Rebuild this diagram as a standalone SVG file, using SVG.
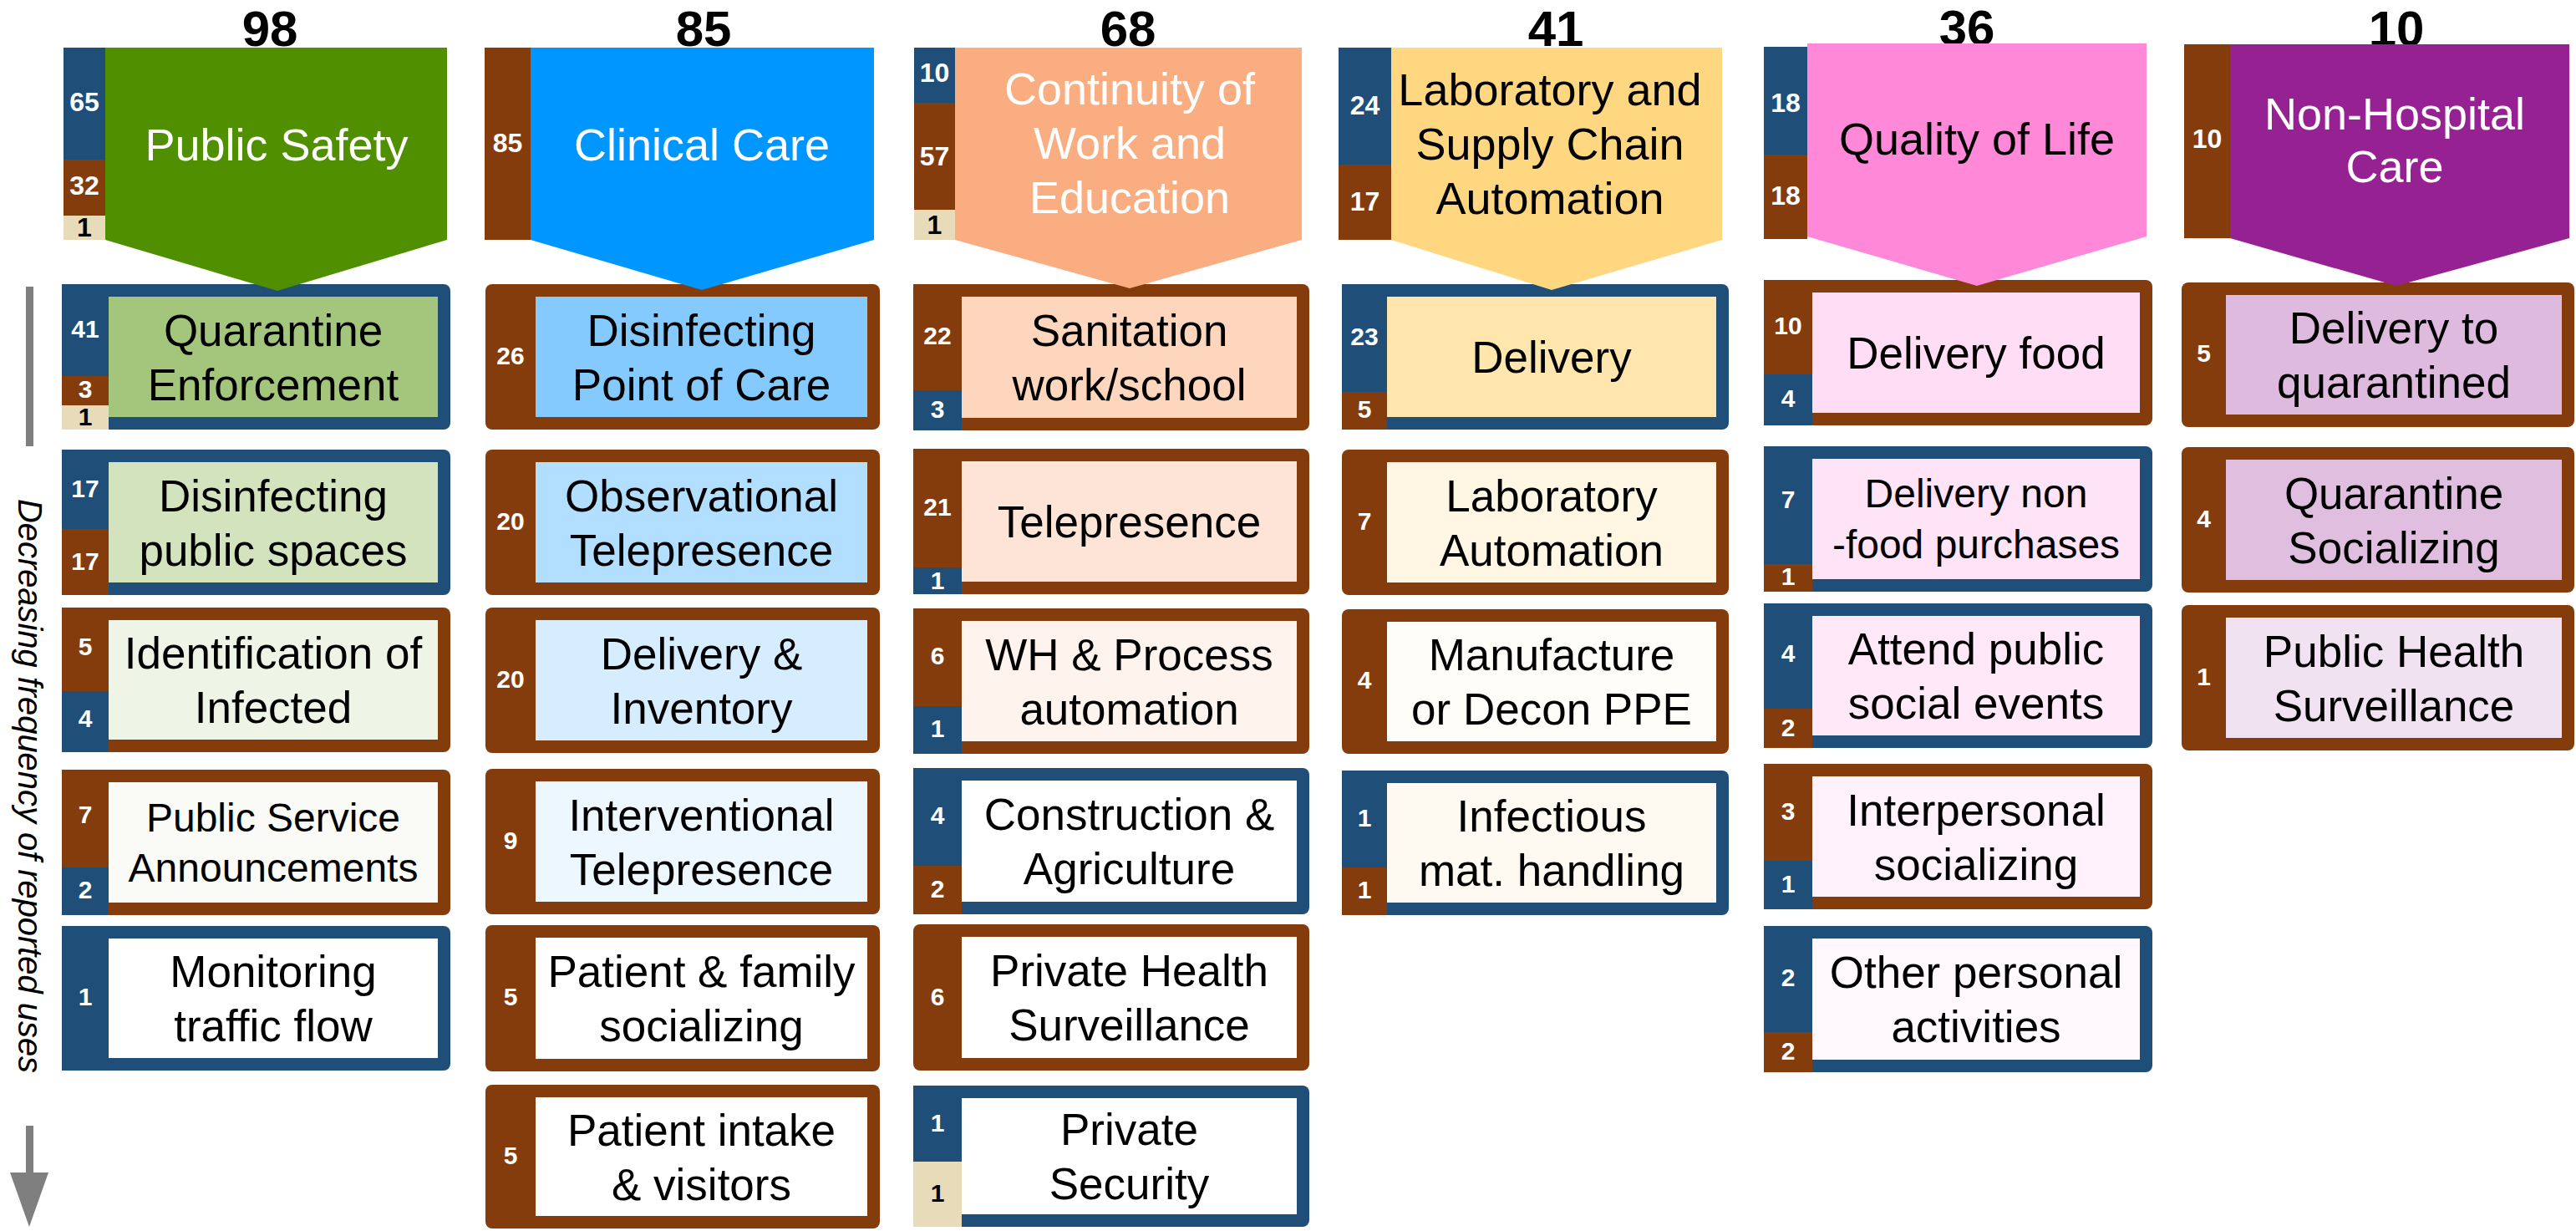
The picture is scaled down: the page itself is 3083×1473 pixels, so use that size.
<svg xmlns="http://www.w3.org/2000/svg" width="3083" height="1473" viewBox="0 0 3083 1473">
<style>
.bgB{fill:#1F4E79}.bgR{fill:#843C0C}.bgY{fill:#E7DBBA}
text{font-family:"Liberation Sans",Arial,sans-serif}
.t{font-size:53px;text-anchor:middle;fill:#000}
.ts{font-size:48px;text-anchor:middle;fill:#000}
.ht{font-size:54px;text-anchor:middle;fill:#fff}
.hk{fill:#000}
.l{font-size:30px;font-weight:bold;text-anchor:middle;fill:#fff}
.hl{font-size:32px;font-weight:bold;text-anchor:middle;fill:#fff}
.lk{fill:#000}
.num{font-size:60px;font-weight:bold;text-anchor:middle;fill:#000}
.ax{fill:#7F7F7F}
</style>
<rect width="3083" height="1473" fill="#fff"/>

<g id="axis">
<rect class="ax" x="31" y="343" width="9" height="191"/>
<text transform="translate(22,597) rotate(90)" font-size="40" font-style="italic" textLength="687" lengthAdjust="spacingAndGlyphs">Decreasing frequency of reported uses</text>
<rect class="ax" x="31" y="1347" width="9" height="57"/>
<polygon class="ax" points="12,1403 58,1403 35,1468"/>
</g>

<!-- Column 1: Public Safety -->
<g id="c1-n1">
<rect class="bgB" x="74" y="340" width="465" height="174" rx="8"/>
<rect class="bgB" x="74" y="340" width="56" height="110"/><rect class="bgR" x="74" y="450" width="56" height="35"/><rect class="bgY" x="74" y="485" width="56" height="29"/>
<rect x="130" y="355" width="394" height="144" fill="#A4C67C"/>
<text class="l" x="102" y="404">41</text><text class="l" x="102" y="476">3</text><text class="l lk" x="102" y="509">1</text>
<text class="t" x="327" y="413.5">Quarantine</text><text class="t" x="327" y="478.5">Enforcement</text>
</g>
<g id="c1-n2">
<rect class="bgB" x="74" y="538" width="465" height="174" rx="8"/>
<rect class="bgB" x="74" y="538" width="56" height="95"/><rect class="bgR" x="74" y="633" width="56" height="79"/>
<rect x="130" y="553" width="394" height="144" fill="#D2E3BD"/>
<text class="l" x="102" y="595">17</text><text class="l" x="102" y="682">17</text>
<text class="t" x="327" y="611.5">Disinfecting</text><text class="t" x="327" y="676.5">public spaces</text>
</g>
<g id="c1-n3">
<rect class="bgR" x="74" y="727" width="465" height="173" rx="8"/>
<rect class="bgR" x="74" y="727" width="56" height="100"/><rect class="bgB" x="74" y="827" width="56" height="73"/>
<rect x="130" y="742" width="394" height="143" fill="#EEF5E7"/>
<text class="l" x="102" y="784">5</text><text class="l" x="102" y="870">4</text>
<text class="t" x="327" y="800">Identification of</text><text class="t" x="327" y="865">Infected</text>
</g>
<g id="c1-n4">
<rect class="bgR" x="74" y="921" width="465" height="174" rx="8"/>
<rect class="bgR" x="74" y="921" width="56" height="117"/><rect class="bgB" x="74" y="1038" width="56" height="57"/>
<rect x="130" y="936" width="394" height="144" fill="#FAFBF7"/>
<text class="l" x="102" y="985">7</text><text class="l" x="102" y="1075">2</text>
<text class="ts" x="327" y="995">Public Service</text><text class="ts" x="327" y="1055">Announcements</text>
</g>
<g id="c1-n5">
<rect class="bgB" x="74" y="1108" width="465" height="173" rx="8"/>
<rect class="bgB" x="74" y="1108" width="56" height="173"/>
<rect x="130" y="1123" width="394" height="143" fill="#FFFFFF"/>
<text class="l" x="102" y="1203">1</text>
<text class="t" x="327" y="1181">Monitoring</text><text class="t" x="327" y="1246">traffic flow</text>
</g>
<g id="c1-head">
<text class="num" x="323" y="55">98</text>
<rect class="bgB" x="76" y="57" width="50" height="134"/><rect class="bgR" x="76" y="191" width="50" height="67"/><rect class="bgY" x="76" y="258" width="50" height="29"/>
<polygon points="126,57 535,57 535,287 332,348 126,287" fill="#4F8F00"/>
<text class="hl" x="101" y="133">65</text><text class="hl" x="101" y="233">32</text><text class="hl lk" x="101" y="283">1</text>
<text class="ht" x="331" y="192">Public Safety</text>
</g>

<!-- Column 2: Clinical Care -->
<g id="c2-n1">
<rect class="bgR" x="581" y="340" width="472" height="174" rx="8"/>
<rect x="641" y="355" width="397" height="144" fill="#85CAFF"/>
<text class="l" x="611" y="436">26</text>
<text class="t" x="839.5" y="413.5">Disinfecting</text><text class="t" x="839.5" y="478.5">Point of Care</text>
</g>
<g id="c2-n2">
<rect class="bgR" x="581" y="538" width="472" height="174" rx="8"/>
<rect x="641" y="553" width="397" height="144" fill="#B2DEFF"/>
<text class="l" x="611" y="634">20</text>
<text class="t" x="839.5" y="611.5">Observational</text><text class="t" x="839.5" y="676.5">Telepresence</text>
</g>
<g id="c2-n3">
<rect class="bgR" x="581" y="727" width="472" height="174" rx="8"/>
<rect x="641" y="742" width="397" height="144" fill="#D6EDFF"/>
<text class="l" x="611" y="823">20</text>
<text class="t" x="839.5" y="800.5">Delivery &amp;</text><text class="t" x="839.5" y="865.5">Inventory</text>
</g>
<g id="c2-n4">
<rect class="bgR" x="581" y="920" width="472" height="174" rx="8"/>
<rect x="641" y="935" width="397" height="144" fill="#EDF7FF"/>
<text class="l" x="611" y="1016">9</text>
<text class="t" x="839.5" y="993.5">Interventional</text><text class="t" x="839.5" y="1058.5">Telepresence</text>
</g>
<g id="c2-n5">
<rect class="bgR" x="581" y="1107" width="472" height="175" rx="8"/>
<rect x="641" y="1122" width="397" height="145" fill="#FFFFFF"/>
<text class="l" x="611" y="1203">5</text>
<text class="t" x="839.5" y="1181">Patient &amp; family</text><text class="t" x="839.5" y="1246">socializing</text>
</g>
<g id="c2-n6">
<rect class="bgR" x="581" y="1298" width="472" height="172" rx="8"/>
<rect x="641" y="1313" width="397" height="142" fill="#FFFFFF"/>
<text class="l" x="611" y="1393">5</text>
<text class="t" x="839.5" y="1370.5">Patient intake</text><text class="t" x="839.5" y="1435.5">&amp; visitors</text>
</g>
<g id="c2-head">
<text class="num" x="842" y="55">85</text>
<rect class="bgR" x="580" y="57" width="55" height="230"/>
<polygon points="635,57 1046,57 1046,287 840,347 635,287" fill="#0096FF"/>
<text class="hl" x="607.5" y="182">85</text>
<text class="ht" x="840" y="192">Clinical Care</text>
</g>

<!-- Column 3: Continuity of Work and Education -->
<g id="c3-n1">
<rect class="bgR" x="1093" y="340" width="474" height="175" rx="8"/>
<rect class="bgR" x="1093" y="340" width="58" height="127"/><rect class="bgB" x="1093" y="467" width="58" height="48"/>
<rect x="1151" y="355" width="401" height="145" fill="#FDD6BD"/>
<text class="l" x="1122" y="412">22</text><text class="l" x="1122" y="500">3</text>
<text class="t" x="1351.5" y="414">Sanitation</text><text class="t" x="1351.5" y="479">work/school</text>
</g>
<g id="c3-n2">
<rect class="bgR" x="1093" y="537" width="474" height="174" rx="8"/>
<rect class="bgR" x="1093" y="537" width="58" height="142"/><rect class="bgB" x="1093" y="679" width="58" height="32"/>
<rect x="1151" y="552" width="401" height="144" fill="#FEE4D6"/>
<text class="l" x="1122" y="617">21</text><text class="l" x="1122" y="705">1</text>
<text class="t" x="1351.5" y="643">Telepresence</text>
</g>
<g id="c3-n3">
<rect class="bgR" x="1093" y="728" width="474" height="174" rx="8"/>
<rect class="bgR" x="1093" y="728" width="58" height="117"/><rect class="bgB" x="1093" y="845" width="58" height="57"/>
<rect x="1151" y="743" width="401" height="144" fill="#FEF3ED"/>
<text class="l" x="1122" y="795">6</text><text class="l" x="1122" y="882">1</text>
<text class="t" x="1351.5" y="801.5">WH &amp; Process</text><text class="t" x="1351.5" y="866.5">automation</text>
</g>
<g id="c3-n4">
<rect class="bgB" x="1093" y="919" width="474" height="175" rx="8"/>
<rect class="bgB" x="1093" y="919" width="58" height="117"/><rect class="bgR" x="1093" y="1036" width="58" height="58"/>
<rect x="1151" y="934" width="401" height="145" fill="#FFFFFF"/>
<text class="l" x="1122" y="986">4</text><text class="l" x="1122" y="1074">2</text>
<text class="t" x="1351.5" y="993">Construction &amp;</text><text class="t" x="1351.5" y="1058">Agriculture</text>
</g>
<g id="c3-n5">
<rect class="bgR" x="1093" y="1106" width="474" height="175" rx="8"/>
<rect x="1151" y="1121" width="401" height="145" fill="#FFFFFF"/>
<text class="l" x="1122" y="1203">6</text>
<text class="t" x="1351.5" y="1180">Private Health</text><text class="t" x="1351.5" y="1245">Surveillance</text>
</g>
<g id="c3-n6">
<rect class="bgB" x="1093" y="1299" width="474" height="169" rx="8"/>
<rect class="bgB" x="1093" y="1299" width="58" height="91"/><rect class="bgY" x="1093" y="1390" width="58" height="78"/>
<rect x="1151" y="1314" width="401" height="139" fill="#FFFFFF"/>
<text class="l" x="1122" y="1354">1</text><text class="l lk" x="1122" y="1438">1</text>
<text class="t" x="1351.5" y="1370">Private</text><text class="t" x="1351.5" y="1435">Security</text>
</g>
<g id="c3-head">
<text class="num" x="1350" y="55">68</text>
<rect class="bgB" x="1094" y="57" width="49" height="66"/><rect class="bgR" x="1094" y="123" width="49" height="128"/><rect class="bgY" x="1094" y="251" width="49" height="36"/>
<polygon points="1143,57 1558,57 1558,287 1352,345 1143,287" fill="#F9AD81"/>
<text class="hl" x="1118.5" y="98">10</text><text class="hl" x="1118.5" y="198">57</text><text class="hl lk" x="1118.5" y="280">1</text>
<text class="ht" x="1352" y="125" font-size="53">Continuity of</text><text class="ht" x="1352" y="190" font-size="53">Work and</text><text class="ht" x="1352" y="255" font-size="53">Education</text>
</g>

<!-- Column 4: Laboratory and Supply Chain Automation -->
<g id="c4-n1">
<rect class="bgB" x="1606" y="340" width="463" height="174" rx="8"/>
<rect class="bgB" x="1606" y="340" width="54" height="129"/><rect class="bgR" x="1606" y="469" width="54" height="45"/>
<rect x="1660" y="355" width="394" height="144" fill="#FFE6AD"/>
<text class="l" x="1633" y="413">23</text><text class="l" x="1633" y="500">5</text>
<text class="t" x="1857" y="446">Delivery</text>
</g>
<g id="c4-n2">
<rect class="bgR" x="1606" y="538" width="463" height="174" rx="8"/>
<rect x="1660" y="553" width="394" height="144" fill="#FFF6E4"/>
<text class="l" x="1633" y="634">7</text>
<text class="t" x="1857" y="611.5">Laboratory</text><text class="t" x="1857" y="676.5">Automation</text>
</g>
<g id="c4-n3">
<rect class="bgR" x="1606" y="729" width="463" height="173" rx="8"/>
<rect x="1660" y="744" width="394" height="143" fill="#FFFDF8"/>
<text class="l" x="1633" y="824">4</text>
<text class="t" x="1857" y="802">Manufacture</text><text class="t" x="1857" y="867">or Decon PPE</text>
</g>
<g id="c4-n4">
<rect class="bgB" x="1606" y="922" width="463" height="173" rx="8"/>
<rect class="bgB" x="1606" y="922" width="54" height="116"/><rect class="bgR" x="1606" y="1038" width="54" height="57"/>
<rect x="1660" y="937" width="394" height="143" fill="#FFFAF1"/>
<text class="l" x="1633" y="989">1</text><text class="l" x="1633" y="1075">1</text>
<text class="t" x="1857" y="995">Infectious</text><text class="t" x="1857" y="1060">mat. handling</text>
</g>
<g id="c4-head">
<text class="num" x="1862" y="55">41</text>
<rect class="bgB" x="1602" y="57" width="63" height="140"/><rect class="bgR" x="1602" y="197" width="63" height="90"/>
<polygon points="1665,57 2061,57 2061,287 1857,347 1665,287" fill="#FFD780"/>
<text class="hl" x="1633.5" y="137">24</text><text class="hl" x="1633.5" y="252">17</text>
<text class="ht hk" x="1855" y="126" font-size="53">Laboratory and</text><text class="ht hk" x="1855" y="191" font-size="53">Supply Chain</text><text class="ht hk" x="1855" y="256" font-size="53">Automation</text>
</g>

<!-- Column 5: Quality of Life -->
<g id="c5-n1">
<rect class="bgR" x="2111" y="335" width="465" height="174" rx="8"/>
<rect class="bgR" x="2111" y="335" width="58" height="113"/><rect class="bgB" x="2111" y="448" width="58" height="61"/>
<rect x="2169" y="350" width="392" height="144" fill="#FFDDF4"/>
<text class="l" x="2140" y="400">10</text><text class="l" x="2140" y="487">4</text>
<text class="t" x="2365" y="441">Delivery food</text>
</g>
<g id="c5-n2">
<rect class="bgB" x="2111" y="534" width="465" height="174" rx="8"/>
<rect class="bgB" x="2111" y="534" width="58" height="141"/><rect class="bgR" x="2111" y="675" width="58" height="33"/>
<rect x="2169" y="549" width="392" height="144" fill="#FFE3F6"/>
<text class="l" x="2140" y="608">7</text><text class="l" x="2140" y="700">1</text>
<text class="ts" x="2365" y="607">Delivery non</text><text class="ts" x="2365" y="668">-food purchases</text>
</g>
<g id="c5-n3">
<rect class="bgB" x="2111" y="722" width="465" height="173" rx="8"/>
<rect class="bgB" x="2111" y="722" width="58" height="126"/><rect class="bgR" x="2111" y="848" width="58" height="47"/>
<rect x="2169" y="737" width="392" height="143" fill="#FFE8F7"/>
<text class="l" x="2140" y="792">4</text><text class="l" x="2140" y="881">2</text>
<text class="t" x="2365" y="795">Attend public</text><text class="t" x="2365" y="860">social events</text>
</g>
<g id="c5-n4">
<rect class="bgR" x="2111" y="914" width="465" height="174" rx="8"/>
<rect class="bgR" x="2111" y="914" width="58" height="116"/><rect class="bgB" x="2111" y="1030" width="58" height="58"/>
<rect x="2169" y="929" width="392" height="144" fill="#FFF2FA"/>
<text class="l" x="2140" y="981">3</text><text class="l" x="2140" y="1068">1</text>
<text class="t" x="2365" y="987.5">Interpersonal</text><text class="t" x="2365" y="1052.5">socializing</text>
</g>
<g id="c5-n5">
<rect class="bgB" x="2111" y="1108" width="465" height="175" rx="8"/>
<rect class="bgB" x="2111" y="1108" width="58" height="127"/><rect class="bgR" x="2111" y="1235" width="58" height="48"/>
<rect x="2169" y="1123" width="392" height="145" fill="#FFF8FC"/>
<text class="l" x="2140" y="1180">2</text><text class="l" x="2140" y="1268">2</text>
<text class="t" x="2365" y="1182">Other personal</text><text class="t" x="2365" y="1247">activities</text>
</g>
<g id="c5-head">
<text class="num" x="2354" y="54">36</text>
<rect class="bgB" x="2111" y="56" width="52" height="129"/><rect class="bgR" x="2111" y="185" width="52" height="101"/>
<polygon points="2163,52 2569,52 2569,283 2366,342 2163,283" fill="#FF89D8"/>
<text class="hl" x="2137" y="134">18</text><text class="hl" x="2137" y="245">18</text>
<text class="ht hk" x="2366" y="185">Quality of Life</text>
</g>

<!-- Column 6: Non-Hospital Care -->
<g id="c6-n1">
<rect class="bgR" x="2611" y="338" width="470" height="173" rx="8"/>
<rect x="2664" y="353" width="402" height="143" fill="#DEBBDE"/>
<text class="l" x="2637.5" y="433">5</text>
<text class="t" x="2865" y="411">Delivery to</text><text class="t" x="2865" y="476">quarantined</text>
</g>
<g id="c6-n2">
<rect class="bgR" x="2611" y="535" width="470" height="174" rx="8"/>
<rect x="2664" y="550" width="402" height="144" fill="#E0BEE0"/>
<text class="l" x="2637.5" y="631">4</text>
<text class="t" x="2865" y="608.5">Quarantine</text><text class="t" x="2865" y="673.5">Socializing</text>
</g>
<g id="c6-n3">
<rect class="bgR" x="2611" y="724" width="470" height="174" rx="8"/>
<rect x="2664" y="739" width="402" height="144" fill="#F1E2F1"/>
<text class="l" x="2637.5" y="820">1</text>
<text class="t" x="2865" y="797.5">Public Health</text><text class="t" x="2865" y="862.5">Surveillance</text>
</g>
<g id="c6-head">
<text class="num" x="2868" y="55">10</text>
<rect class="bgR" x="2614" y="53" width="55" height="232"/>
<polygon points="2669,53 3075,53 3075,285 2868,342 2669,285" fill="#962192"/>
<text class="hl" x="2641.5" y="177">10</text>
<text class="ht" x="2866" y="155" font-size="53">Non-Hospital</text><text class="ht" x="2866" y="218" font-size="53">Care</text>
</g>

<g id="connectors"></g>
</svg>
